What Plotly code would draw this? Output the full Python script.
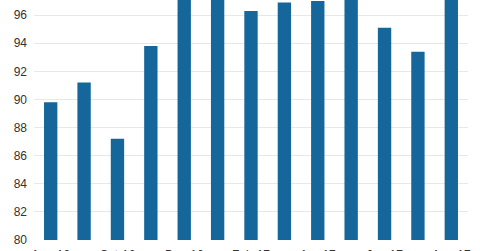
import plotly.graph_objects as go

months = ["Aug-16", "Sep-16", "Oct-16", "Nov-16", "Dec-16", "Jan-17", "Feb-17",
          "Mar-17", "Apr-17", "May-17", "Jun-17", "Jul-17", "Aug-17"]
values = [89.8, 91.2, 87.2, 93.8, 98.5, 98.6, 96.3, 96.9, 97.0, 98.2, 95.1, 93.4, 98.4]
tick_labels = months[::2]
y_ticks = [80, 82, 84, 86, 88, 90, 92, 94, 96]

fig = go.Figure(go.Bar(x=months, y=values, marker=dict(color="#15669a", line=dict(width=0))))
fig.update_layout(
    width=480, height=251,
    margin=dict(l=34, r=12, t=0, b=11),
    paper_bgcolor="white", plot_bgcolor="white",
    bargap=0.6, showlegend=False,
    font=dict(family="Liberation Sans, Arial", size=12, color="#333333"),
)
fig.update_xaxes(tickvals=tick_labels, ticktext=tick_labels, automargin=False,
                 showgrid=False, showline=False, ticks="", ticklabelstandoff=6)
fig.update_yaxes(range=[80, 97.08], tickvals=y_ticks, automargin=False,
                 showgrid=True, gridcolor="#e8e8e8", gridwidth=1, zeroline=False,
                 ticks="", ticklabelstandoff=6)
fig.write_html("out.html")
